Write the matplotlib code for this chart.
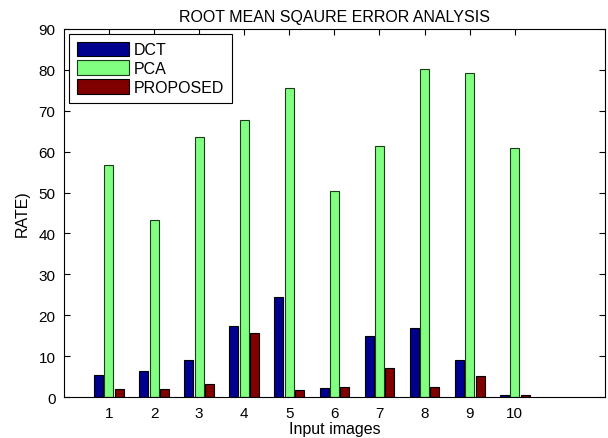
import numpy as np
import matplotlib.pyplot as plt

plt.rcParams['font.family'] = ['Liberation Sans', 'DejaVu Sans']

images = np.arange(1, 11)
dct = [5.3, 6.5, 9.0, 17.3, 24.5, 2.3, 15.0, 17.0, 9.0, 0.5]
pca = [56.8, 43.3, 63.5, 67.8, 75.5, 50.5, 61.3, 80.3, 79.2, 60.8]
proposed = [2.1, 2.1, 3.1, 15.8, 1.8, 2.4, 7.1, 2.6, 5.1, 0.5]

fig = plt.figure(figsize=(6.08, 4.39), dpi=100)
ax = fig.add_axes([0.105, 0.093, 0.89, 0.839])
ax.set_axisbelow(True)

w = 0.2
ax.bar(images - 0.23, dct, w, color='#00008F', edgecolor='black', linewidth=0.8, label='DCT')
ax.bar(images, pca, w, color='#80FF80', edgecolor='#1a3a1a', linewidth=0.8, label='PCA')
ax.bar(images + 0.23, proposed, w, color='#800000', edgecolor='black', linewidth=0.8, label='PROPOSED')

ax.set_xlim(0, 12)
ax.set_ylim(0, 90)
ax.set_xticks(images)
ax.set_yticks(np.arange(0, 91, 10))
ax.tick_params(direction='in', top=True, right=True, labelsize=11, length=4, pad=6)
for s in ax.spines.values():
    s.set_linewidth(0.8)

ax.set_xlabel('Input images', fontsize=11.5, labelpad=1)
ax.set_ylabel('RATE)', fontsize=11.5, labelpad=6)
ax.set_title('ROOT MEAN SQAURE ERROR ANALYSIS', fontsize=11.5, pad=6)

leg = ax.legend(loc='upper left', fontsize=11.5, fancybox=False, framealpha=1,
                edgecolor='black', handlelength=3.25, handleheight=1.0,
                handletextpad=0.35, borderpad=0.5, borderaxespad=0.3,
                labelspacing=0.2)
leg.get_frame().set_linewidth(0.8)

fig.savefig('out.png', dpi=100)
